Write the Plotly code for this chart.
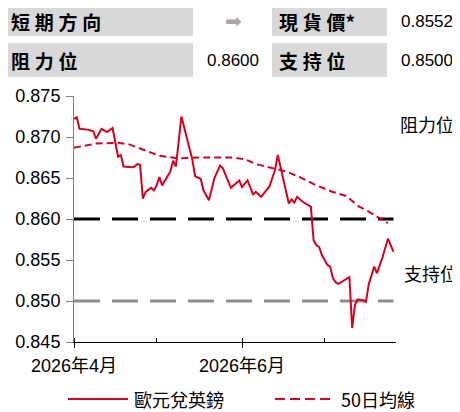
import plotly.graph_objects as go

# 歐元兌英鎊 (traced vertices)
fx_dates = [
    "2026-04-01", "2026-04-02", "2026-04-03", "2026-04-06", "2026-04-08", "2026-04-09",
    "2026-04-11", "2026-04-13", "2026-04-15", "2026-04-16", "2026-04-17", "2026-04-18",
    "2026-04-19", "2026-04-22", "2026-04-23", "2026-04-24", "2026-04-25", "2026-04-26",
    "2026-04-27", "2026-04-29", "2026-04-30", "2026-05-01", "2026-05-02", "2026-05-03",
    "2026-05-05", "2026-05-06", "2026-05-07", "2026-05-08", "2026-05-10", "2026-05-12",
    "2026-05-14", "2026-05-15", "2026-05-17", "2026-05-18", "2026-05-20", "2026-05-22",
    "2026-05-24", "2026-05-25", "2026-05-28", "2026-05-31", "2026-06-01", "2026-06-03",
    "2026-06-05", "2026-06-06", "2026-06-08", "2026-06-11", "2026-06-12", "2026-06-13",
    "2026-06-14", "2026-06-18", "2026-06-19", "2026-06-20", "2026-06-21", "2026-06-23",
    "2026-06-26", "2026-06-27", "2026-06-28", "2026-06-29", "2026-06-30", "2026-07-02",
    "2026-07-03", "2026-07-04", "2026-07-05", "2026-07-06", "2026-07-10", "2026-07-11",
    "2026-07-12", "2026-07-13", "2026-07-15", "2026-07-16", "2026-07-17", "2026-07-19",
    "2026-07-20", "2026-07-22", "2026-07-24", "2026-07-26",
]
fx_values = [
    0.8722, 0.8724, 0.8710, 0.8709, 0.8707, 0.8698,
    0.8710, 0.8706, 0.8711, 0.8694, 0.8676, 0.8678,
    0.8664, 0.8663, 0.8664, 0.8667, 0.8666, 0.8625,
    0.8633, 0.8638, 0.8635, 0.8641, 0.8651, 0.8641,
    0.8652, 0.8658, 0.8671, 0.8664, 0.8725, 0.8700,
    0.8672, 0.8652, 0.8649, 0.8635, 0.8623, 0.8650,
    0.8665, 0.8662, 0.8638, 0.8647, 0.8639, 0.8647,
    0.8630, 0.8633, 0.8627, 0.8640, 0.8650, 0.8660,
    0.8678, 0.8619, 0.8624, 0.8620, 0.8627, 0.8621,
    0.8615, 0.8574, 0.8568, 0.8566, 0.8556, 0.8544,
    0.8542, 0.8528, 0.8523, 0.8521, 0.8529, 0.8467,
    0.8495, 0.8502, 0.8501, 0.8499, 0.8520, 0.8542,
    0.8534, 0.8553, 0.8576, 0.8560,
]

# 50日均線
ma_dates = [
    "2026-04-01", "2026-04-09", "2026-04-17", "2026-04-21", "2026-04-25", "2026-05-02",
    "2026-05-09", "2026-05-17", "2026-05-28", "2026-06-02", "2026-06-06", "2026-06-12",
    "2026-06-17", "2026-06-22", "2026-06-28", "2026-07-04", "2026-07-09", "2026-07-13",
    "2026-07-16", "2026-07-20", "2026-07-24",
]
ma_values = [
    0.8687, 0.8692, 0.8693, 0.8691, 0.8686, 0.8677,
    0.8674, 0.8675, 0.8675, 0.8673, 0.8667, 0.8662,
    0.8658, 0.8651, 0.8641, 0.8633, 0.8628, 0.8616,
    0.8611, 0.8603, 0.8595,
]

level_dates = ["2026-04-01", "2026-07-26"]
resistance = 0.8600
support = 0.8500
spot = 0.8552

RED = "#d7001e"
# the page body keeps an 8px margin, so the figure is drawn 8px in from the corner
OFF = 8
W, H = 460 - OFF, 412 - OFF


def px(x):
    return (x - OFF) / W


def py(y):
    return 1 - (y - OFF) / H


fig = go.Figure()
fig.add_trace(go.Scatter(x=level_dates, y=[resistance] * 2, mode="lines",
                         line=dict(color="black", width=3, dash="26px,12px"),
                         hoverinfo="skip", showlegend=False))
fig.add_trace(go.Scatter(x=level_dates, y=[support] * 2, mode="lines",
                         line=dict(color="#8c8c8c", width=3, dash="26px,12px"),
                         hoverinfo="skip", showlegend=False))
fig.add_trace(go.Scatter(x=ma_dates, y=ma_values, mode="lines", name="50日均線",
                         line=dict(color=RED, width=2, dash="7px,4px"), showlegend=False))
fig.add_trace(go.Scatter(x=fx_dates, y=fx_values, mode="lines", name="歐元兌英鎊",
                         line=dict(color=RED, width=2), showlegend=False))

CJK = "Noto Sans CJK TC"
NUM = "Liberation Sans"
NARROW = "Liberation Sans Narrow, Liberation Sans, Noto Sans CJK TC"
SP = "\u2005"

shapes = []
annotations = []

# header table
for (x0, x1) in [(8, 193), (272, 387)]:
    for (y0, y1) in [(8, 36), (43, 77)]:
        shapes.append(dict(type="rect", xref="paper", yref="paper",
                           x0=px(x0), x1=px(x1), y0=py(y1), y1=py(y0),
                           fillcolor="#d9d9d9", line=dict(width=0), layer="below"))


def label(text, x, y, size=18, family=CJK, anchor="left", color="black"):
    annotations.append(dict(text=text, x=px(x), y=py(y), xref="paper", yref="paper",
                            xanchor=anchor, yanchor="middle", showarrow=False,
                            font=dict(family=family, size=size, color=color)))


def spaced(s):
    return "<b>" + SP.join(s) + "</b>"


label(spaced("短期方向"), 9, 21, 19)
label("➡", 233, 21, 20, "DejaVu Sans", "center", "#a6a6a6")
label(spaced("現貨價") + "<b>*</b>", 277, 21, 19)
label(f"{spot:.4f}", 455, 21, 17, NUM, "right")
label(spaced("阻力位"), 9, 60, 19)
label(f"{resistance:.4f}", 261, 60, 17, NUM, "right")
label(spaced("支持位"), 277, 60, 19)
label(f"{support:.4f}", 455, 60, 17, NUM, "right")

# level labels
label("阻力位", 398, 124, 18)
label("支持位", 402, 273, 18)

# legend
LEG_Y = 399
shapes.append(dict(type="line", xref="paper", yref="paper", x0=px(68), x1=px(128),
                   y0=py(LEG_Y), y1=py(LEG_Y), line=dict(color=RED, width=2)))
shapes.append(dict(type="line", xref="paper", yref="paper", x0=px(275), x1=px(335),
                   y0=py(LEG_Y), y1=py(LEG_Y), line=dict(color=RED, width=2, dash="10px,5px")))
label("歐元兌英鎊", 132, LEG_Y, 18)
label("50日均線", 339, LEG_Y, 18)

fig.update_layout(
    width=W, height=H,
    margin=dict(l=0, r=0, t=0, b=0),
    paper_bgcolor="white", plot_bgcolor="white",
    shapes=shapes, annotations=annotations,
    showlegend=False,
    xaxis=dict(
        domain=[px(74), px(396)],
        automargin=False,
        type="date",
        range=["2026-04-01", "2026-07-26 22:00"],
        tick0="2026-04-01", dtick="M2",
        tickformat="%Y年%-m月",
        ticks="outside", ticklen=5, tickcolor="black",
        minor=dict(dtick="M1", ticks="inside", ticklen=4, tickcolor="black"),
        showline=True, linecolor="black", linewidth=1,
        showgrid=False, zeroline=False,
        ticklabelstandoff=2,
        tickfont=dict(family=NARROW, size=18, color="black"),
    ),
    yaxis=dict(
        domain=[py(342), py(96)],
        automargin=False,
        range=[0.845, 0.875],
        dtick=0.005, tickformat=".3f",
        ticks="outside", ticklen=7, tickcolor="#7f7f7f",
        showline=True, linecolor="#7f7f7f", linewidth=1,
        showgrid=False, zeroline=False,
        ticklabelstandoff=2,
        tickfont=dict(family=NARROW, size=18, color="black"),
    ),
)

fig.write_html("out.html")
